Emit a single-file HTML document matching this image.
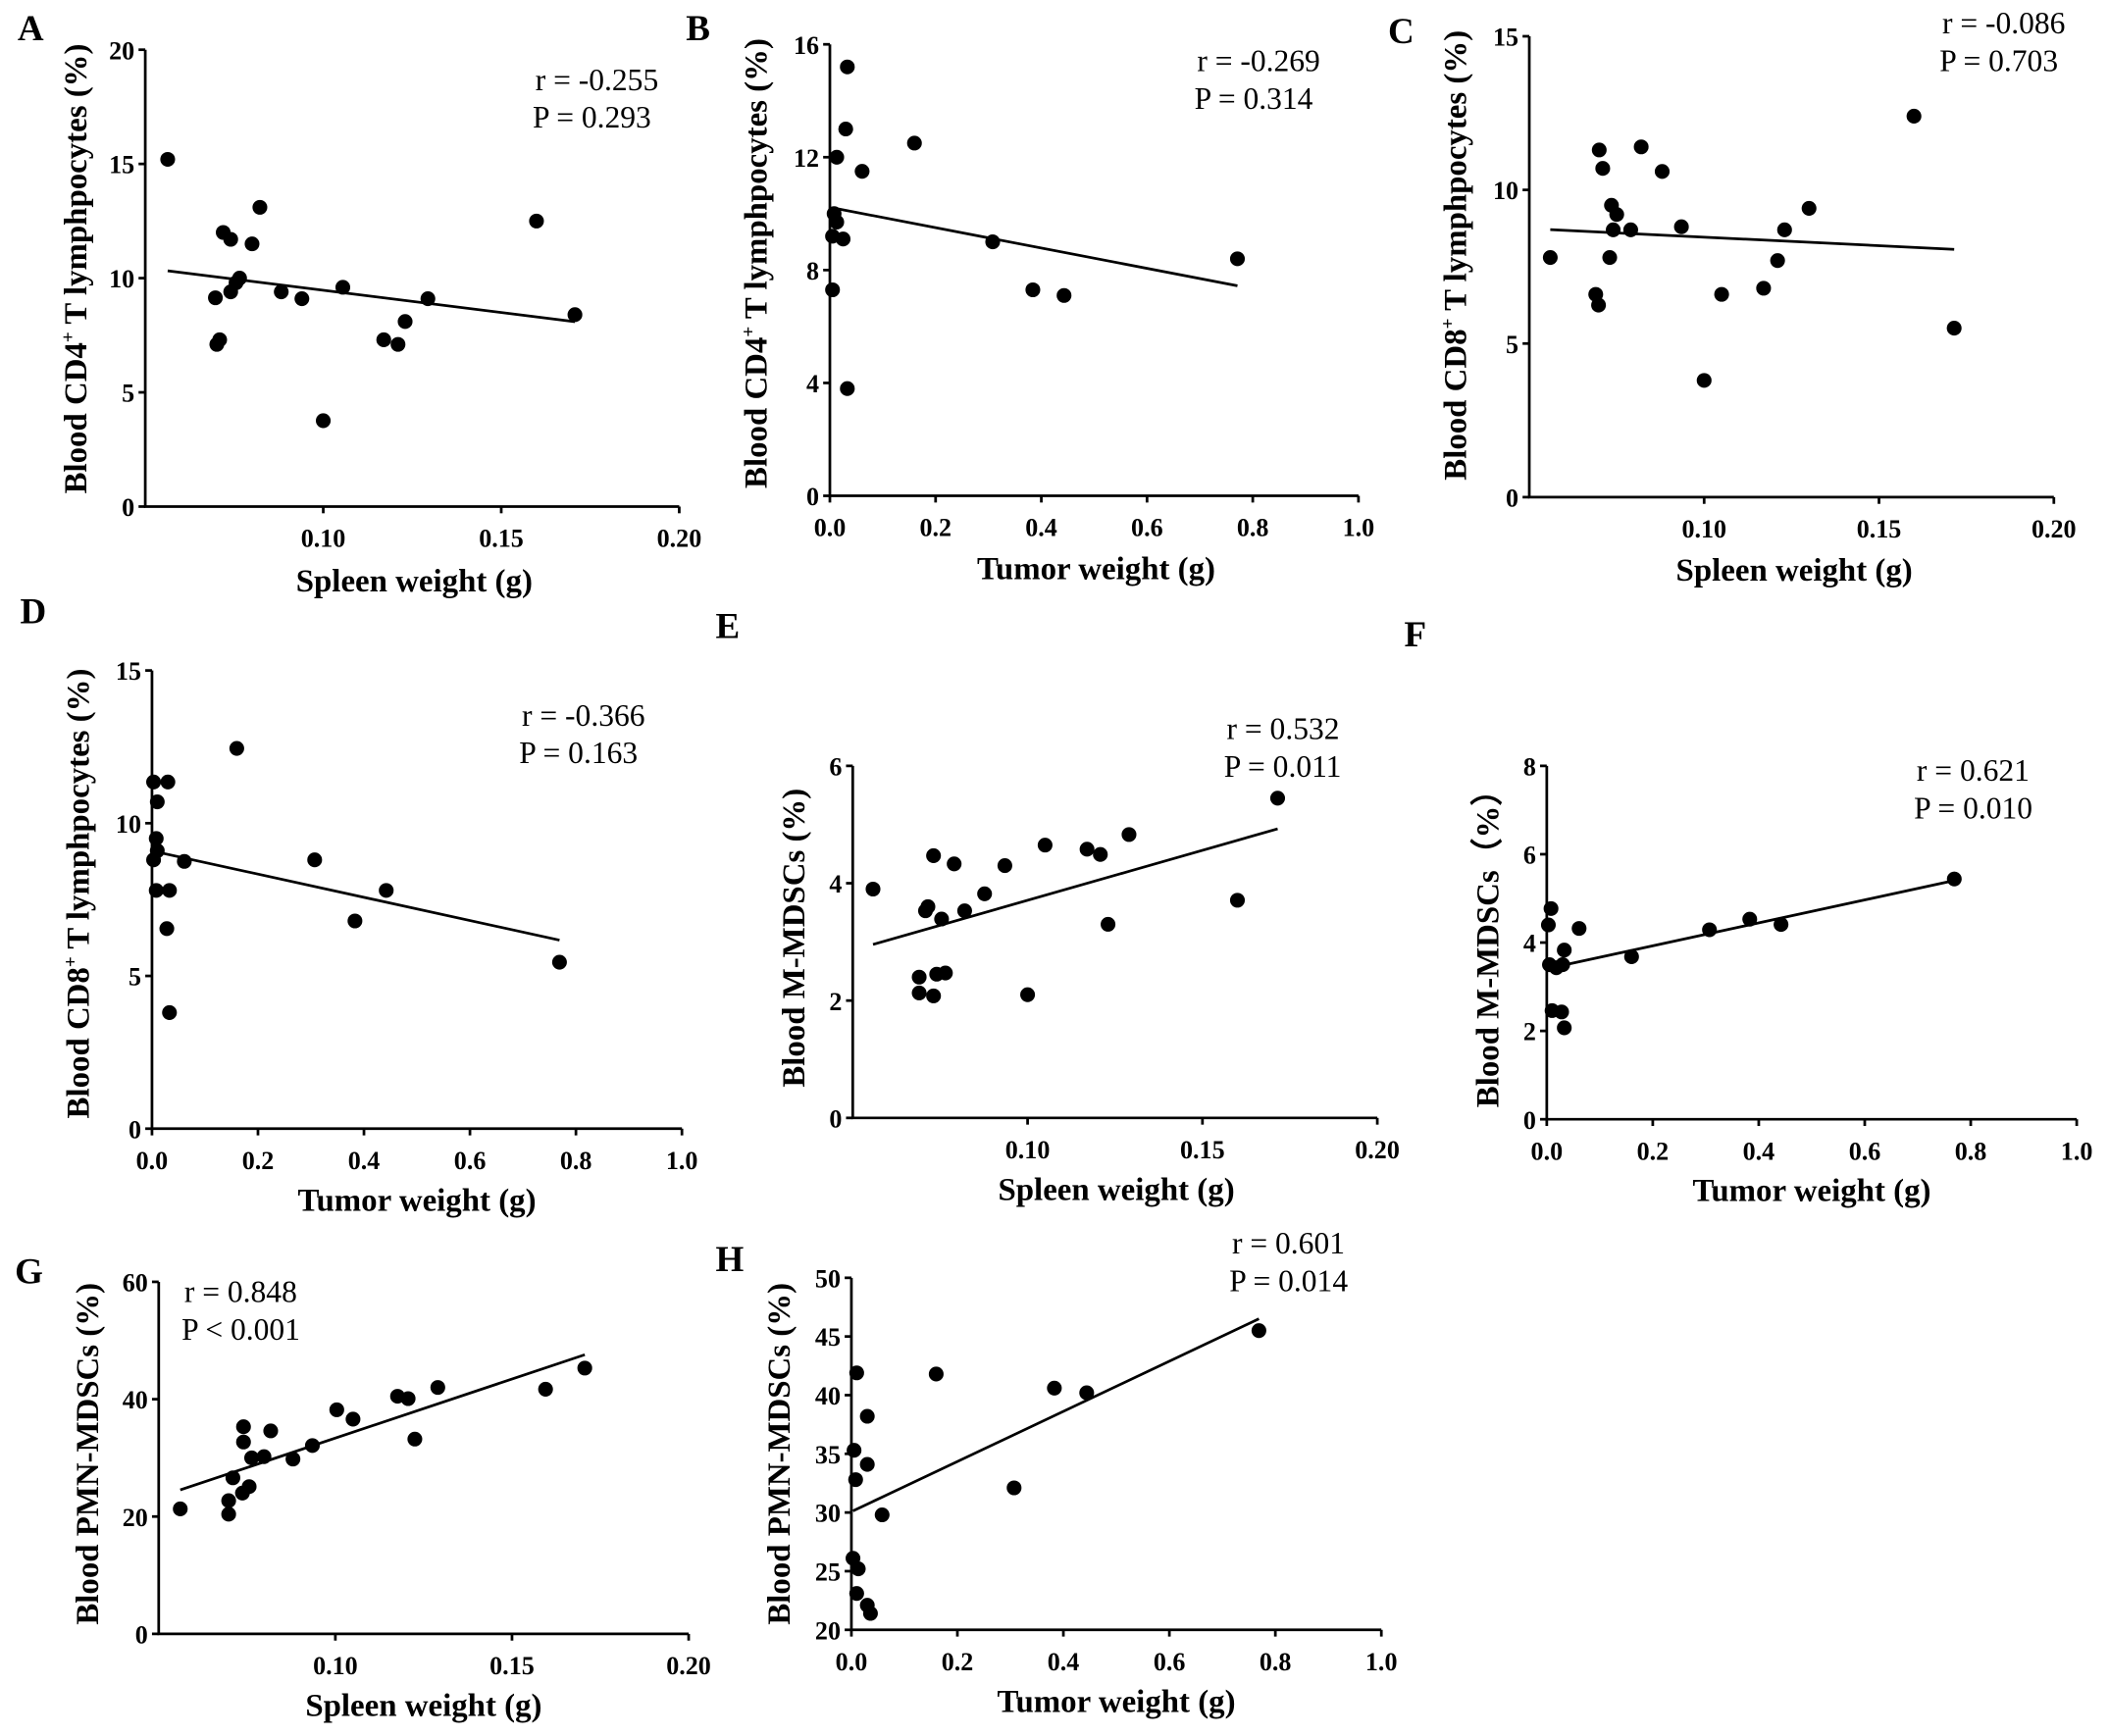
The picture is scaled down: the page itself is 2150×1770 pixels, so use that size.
<!DOCTYPE html>
<html><head><meta charset="utf-8"><style>
html,body{margin:0;padding:0;background:#fff;}
svg{display:block;}
text{font-family:"Liberation Serif",serif;fill:#000;}
.tick{font-weight:bold;font-size:19px;}
.atitle{font-weight:bold;font-size:24px;}
.ann{font-size:23px;}
.plet{font-weight:bold;font-size:27px;}
</style></head><body>
<svg id="fig" width="2150" height="1770" viewBox="0 0 1568 1292" preserveAspectRatio="none" xmlns="http://www.w3.org/2000/svg"></svg>
<script>
// ---- data ----
const aX=[0.0563,0.0697,0.0701,0.0709,0.0719,0.0740,0.0740,0.0755,0.0765,0.0800,0.0822,0.0882,0.0940,0.1000,0.1055,0.1170,0.1210,0.1230,0.1294,0.1599,0.1707];
const aY=[15.2,9.14,7.1,7.3,12.0,11.7,9.4,9.8,10.0,11.5,13.1,9.4,9.1,3.76,9.6,7.3,7.1,8.1,9.1,12.5,8.4];
const bX=[0.033,0.030,0.013,0.061,0.160,0.008,0.013,0.005,0.025,0.005,0.033,0.308,0.384,0.443,0.771];
const bY=[15.2,13.0,12.0,11.5,12.5,10.0,9.7,9.2,9.1,7.3,3.8,9.0,7.3,7.1,8.4];
const cX=[0.056,0.070,0.071,0.069,0.0698,0.0735,0.075,0.073,0.074,0.079,0.082,0.088,0.0935,0.100,0.105,0.117,0.121,0.123,0.130,0.160,0.1715];
const cY=[7.8,11.3,10.7,6.6,6.25,9.5,9.2,7.8,8.7,8.7,11.4,10.6,8.8,3.8,6.6,6.8,7.7,8.7,9.4,12.4,5.5];
const dX=[0.003,0.010,0.008,0.010,0.003,0.008,0.030,0.033,0.028,0.033,0.061,0.160,0.307,0.442,0.383,0.769];
const dY=[11.35,10.7,9.5,9.1,8.8,7.8,11.35,7.8,6.55,3.8,8.75,12.45,8.8,7.8,6.8,5.45];
const eX=[0.0558,0.0708,0.0715,0.069,0.069,0.0731,0.0731,0.0754,0.074,0.0765,0.079,0.082,0.0877,0.0935,0.100,0.105,0.117,0.1208,0.123,0.129,0.160,0.1715];
const eY=[3.9,3.53,3.6,2.4,2.13,2.08,4.47,3.39,2.45,2.47,4.33,3.53,3.82,4.3,2.1,4.65,4.58,4.49,3.3,4.83,3.71,5.45];
const fX=[0.008,0.003,0.005,0.018,0.010,0.033,0.030,0.028,0.033,0.061,0.160,0.307,0.383,0.442,0.769];
const fY=[4.77,4.4,3.5,3.43,2.46,3.83,3.5,2.43,2.07,4.32,3.68,4.29,4.53,4.41,5.44];
const gX=[0.0561,0.0698,0.0698,0.071,0.0737,0.074,0.074,0.0756,0.0763,0.0798,0.0817,0.088,0.0935,0.1004,0.105,0.1176,0.1206,0.1225,0.129,0.1595,0.1706];
const gY=[21.3,22.7,20.4,26.6,24.0,35.3,32.7,25.1,30.0,30.2,34.6,29.8,32.1,38.2,36.6,40.5,40.1,33.2,42.0,41.7,45.3];
const hX=[0.005,0.008,0.010,0.003,0.013,0.010,0.030,0.030,0.030,0.036,0.058,0.160,0.307,0.383,0.444,0.769];
const hY=[35.3,32.8,41.9,26.1,25.2,23.1,38.2,34.1,22.1,21.4,29.8,41.8,32.1,40.6,40.2,45.5];
const spleenTicks=["0.10","0.15","0.20"];
const tumorTicks=["0.0","0.2","0.4","0.6","0.8","1.0"];
const aYTicks=["0","5","10","15","20"];
const bYTicks=["0","4","8","12","16"];
const cYTicks=["0","5","10","15"];
const eYTicks=["0","2","4","6"];
const fYTicks=["0","2","4","6","8"];
const gYTicks=["0","20","40","60"];
const hYTicks=["20","25","30","35","40","45","50"];

const NS="http://www.w3.org/2000/svg";
const svg=document.getElementById('fig');
function mk(tag,attrs,parent,txt){const e=document.createElementNS(NS,tag);for(const k in attrs)e.setAttribute(k,attrs[k]);if(txt!==undefined)e.textContent=txt;(parent||svg).appendChild(e);return e;}

function panel(p){
  const g=mk('g',{});
  
  
  const sx=v=>p.x0+(v-p.xmin)/(p.xmax-p.xmin)*(p.x1-p.x0);
  const sy=v=>p.y0-(v-p.ymin)/(p.ymax-p.ymin)*(p.y0-p.y1);
  const ax=mk('path',{d:`M${p.x0},${p.y1}V${p.y0}H${p.x1}`,stroke:'#000','stroke-width':2,fill:'none'},g);
  
  
  p.yt.forEach(t=>{const y=sy(+t);
    mk('line',{x1:p.x0-5,x2:p.x0,y1:y,y2:y,stroke:'#000','stroke-width':2},g);
    const tx=mk('text',{x:p.x0-8,y:y+7,'text-anchor':'end',class:'tick'},g,t);
    
    });
  p.xt.forEach(t=>{const x=sx(+t);
    mk('line',{x1:x,x2:x,y1:p.y0,y2:p.y0+5,stroke:'#000','stroke-width':2},g);
    const tx=mk('text',{x:x,y:p.y0+30,'text-anchor':'middle',class:'tick'},g,t);
    
    });
  const n=p.X.length;let mx=0,my=0;for(let i=0;i<n;i++){mx+=p.X[i];my+=p.Y[i];}mx/=n;my/=n;
  let sxy=0,sxx=0;for(let i=0;i<n;i++){sxy+=(p.X[i]-mx)*(p.Y[i]-my);sxx+=(p.X[i]-mx)**2;}
  const b=sxy/sxx,a=my-b*mx;const lo=Math.min(...p.X),hi=Math.max(...p.X);
  const ln=mk('line',{x1:sx(lo),y1:sy(a+b*lo),x2:sx(hi),y2:sy(a+b*hi),stroke:'#000','stroke-width':2},g);
  
  
  for(let i=0;i<n;i++){
    const c=mk('circle',{cx:sx(p.X[i]),cy:sy(p.Y[i]),r:5.5,fill:'#000'},g);
    
    
  }
  const xt=mk('text',{x:p.xtl[0],y:p.xtl[1],'text-anchor':'middle',class:'atitle'},g,p.xtitle);
  
  
  const yt=mk('text',{x:0,y:0,'text-anchor':'middle',class:'atitle',transform:`translate(${p.ytl[0]},${p.ytl[1]}) rotate(-90)`},g);
  
  
  yt.innerHTML=p.ytitle;
  const r=mk('text',{x:p.ann[0],y:p.ann[1],class:'ann'},g,p.r);
  
  
  const pv=mk('text',{x:p.ann[0]-2,y:p.ann[1]+28,class:'ann'},g,p.pv);
  
  
  const L=mk('text',{x:p.let[0],y:p.let[1],class:'plet'},g,p.id);
  
  
}
const cd4='Blood CD4<tspan dy="-9" font-size="14">+</tspan><tspan dy="9"> T lymphpocytes (%)</tspan>';
const cd8='Blood CD8<tspan dy="-9" font-size="14">+</tspan><tspan dy="9"> T lymphpocytes (%)</tspan>';
panel({id:'A',X:aX,Y:aY,xmin:0.05,xmax:0.20,ymin:0,ymax:20,x0:108,x1:505,y0:377,y1:37,xt:spleenTicks,yt:aYTicks,xtitle:'Spleen weight (g)',xtl:[308,440],ytitle:cd4,ytl:[64,200],ann:[398,67],r:'r = -0.255',pv:'P = 0.293',let:[13,30]});
panel({id:'B',X:bX,Y:bY,xmin:0,xmax:1,ymin:0,ymax:16,x0:617,x1:1010,y0:369,y1:33,xt:tumorTicks,yt:bYTicks,xtitle:'Tumor weight (g)',xtl:[815,431],ytitle:cd4,ytl:[570,196],ann:[890,53],r:'r = -0.269',pv:'P = 0.314',let:[510,30]});
panel({id:'C',X:cX,Y:cY,xmin:0.05,xmax:0.20,ymin:0,ymax:15,x0:1137,x1:1527,y0:370,y1:27,xt:spleenTicks,yt:cYTicks,xtitle:'Spleen weight (g)',xtl:[1334,432],ytitle:cd8,ytl:[1090,190],ann:[1444,25],r:'r = -0.086',pv:'P = 0.703',let:[1032,32]});
panel({id:'D',X:dX,Y:dY,xmin:0,xmax:1,ymin:0,ymax:15,x0:113,x1:507,y0:840,y1:499,xt:tumorTicks,yt:cYTicks,xtitle:'Tumor weight (g)',xtl:[310,901],ytitle:cd8,ytl:[66,665],ann:[388,540],r:'r = -0.366',pv:'P = 0.163',let:[15,464]});
panel({id:'E',X:eX,Y:eY,xmin:0.05,xmax:0.20,ymin:0,ymax:6,x0:634,x1:1024,y0:832,y1:570,xt:spleenTicks,yt:eYTicks,xtitle:'Spleen weight (g)',xtl:[830,893],ytitle:'Blood M-MDSCs (%)',ytl:[598,698],ann:[912,550],r:'r = 0.532',pv:'P = 0.011',let:[532,475]});
panel({id:'F',X:fX,Y:fY,xmin:0,xmax:1,ymin:0,ymax:8,x0:1150,x1:1544,y0:833,y1:570,xt:tumorTicks,yt:fYTicks,xtitle:'Tumor weight (g)',xtl:[1347,894],ytitle:'Blood M-MDSCs（%）',ytl:[1114,700],ann:[1425,581],r:'r = 0.621',pv:'P = 0.010',let:[1044,481]});
panel({id:'G',X:gX,Y:gY,xmin:0.05,xmax:0.20,ymin:0,ymax:60,x0:118,x1:512,y0:1216,y1:954,xt:spleenTicks,yt:gYTicks,xtitle:'Spleen weight (g)',xtl:[315,1277],ytitle:'Blood PMN-MDSCs (%)',ytl:[73,1082],ann:[137,969],r:'r = 0.848',pv:'P < 0.001',let:[11,955]});
panel({id:'H',X:hX,Y:hY,xmin:0,xmax:1,ymin:20,ymax:50,x0:633,x1:1027,y0:1213,y1:951,xt:tumorTicks,yt:hYTicks,xtitle:'Tumor weight (g)',xtl:[830,1274],ytitle:'Blood PMN-MDSCs (%)',ytl:[587,1082],ann:[916,933],r:'r = 0.601',pv:'P = 0.014',let:[532,946]});
</script>
</body></html>
